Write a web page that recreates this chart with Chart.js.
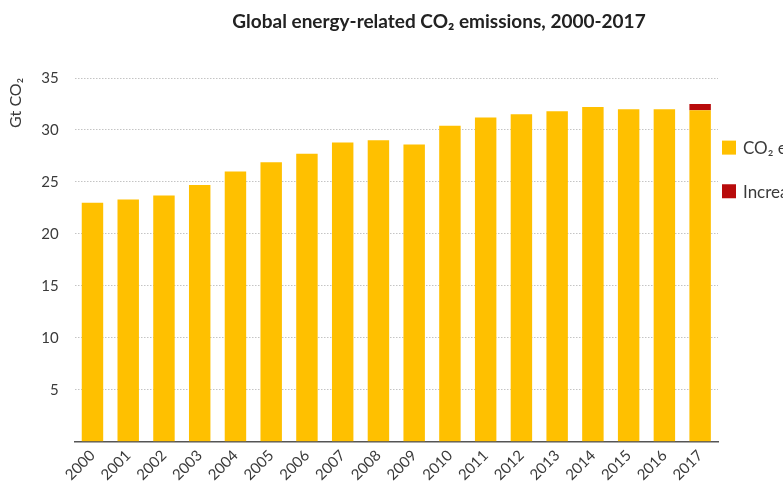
<!DOCTYPE html>
<html>
<head>
<meta charset="utf-8">
<script src="https://cdn.jsdelivr.net/npm/chart.js@4"></script>
<style>
html,body{margin:0;padding:0;background:#fff;overflow:hidden;}
#wrap{width:783px;height:489px;position:relative;}
</style>
</head>
<body>
<div id="wrap"><canvas id="c"></canvas></div>
<script>
const years = ['2000','2001','2002','2003','2004','2005','2006','2007','2008','2009','2010','2011','2012','2013','2014','2015','2016','2017'];
const emissions = [23.0,23.3,23.7,24.7,26.0,26.9,27.7,28.8,29.0,28.6,30.4,31.2,31.5,31.8,32.2,32.0,32.0,31.9];
const increase2017 = [null,null,null,null,null,null,null,null,null,null,null,null,null,null,null,null,null,0.6];
const seriesLabels = ['CO\u2082 emissions','Increase in 2017'];
const yTicks = [0,5,10,15,20,25,30,35];
const chartTitle = 'Global energy-related CO\u2082 emissions, 2000-2017';

const YELLOW = '#FFC000';
const RED = '#B80B0B';
const TEXT = '#3a3a3a';
const FONT = 'Lato, "Open Sans", sans-serif';

const decorPlugin = {
  id: 'decor',
  afterDraw(chart) {
    const ctx = chart.ctx;
    const area = chart.chartArea;
    ctx.save();
    ctx.fillStyle = '#222';
    ctx.font = 'bold 19px ' + FONT;
    ctx.textAlign = 'center';
    ctx.textBaseline = 'middle';
    ctx.fillText(chartTitle, 439, 22);
    const x0 = area.right + 4;
    const ys = [chart.scales.y.getPixelForValue(28.3), chart.scales.y.getPixelForValue(24.1)];
    chart.data.datasets.forEach((ds, i) => {
      ctx.fillStyle = ds.backgroundColor;
      ctx.fillRect(x0, ys[i] - 7, 14, 14);
      ctx.fillStyle = TEXT;
      ctx.font = '17px ' + FONT;
      ctx.textBaseline = 'middle';
      ctx.textAlign = 'left';
      ctx.fillText(ds.label, x0 + 21, ys[i] + 1);
    });
    ctx.restore();
  }
};

new Chart(document.getElementById('c'), {
  type: 'bar',
  data: {
    labels: years,
    datasets: [
      { label: seriesLabels[0], data: emissions, backgroundColor: YELLOW, barPercentage: 0.6, categoryPercentage: 1.0 },
      { label: seriesLabels[1], data: increase2017, backgroundColor: RED, barPercentage: 0.6, categoryPercentage: 1.0 }
    ]
  },
  options: {
    responsive: true,
    maintainAspectRatio: false,
    animation: false,
    layout: { padding: { left: 6, right: 65, top: 78, bottom: 0 } },
    plugins: {
      legend: { display: false },
      tooltip: { enabled: false },
      title: { display: false }
    },
    scales: {
      x: {
        stacked: true,
        grid: { display: false, drawTicks: false },
        border: { display: true, color: '#555', width: 1.5 },
        ticks: {
          color: TEXT,
          font: { family: FONT, size: 15 },
          maxRotation: 45, minRotation: 45,
          padding: 5
        }
      },
      y: {
        stacked: true,
        min: 0, max: 35,
        afterBuildTicks(scale) { scale.ticks = yTicks.map(v => ({ value: v })); },
        grid: {
          color: ctx => ctx.tick && ctx.tick.value === 0 ? 'rgba(0,0,0,0)' : '#c4c4c4',
          drawTicks: false,
          lineWidth: 1
        },
        border: { display: false, dash: [1.5, 1.5] },
        ticks: {
          color: TEXT,
          font: { family: FONT, size: 15 },
          padding: 16,
          callback: v => v === 0 ? '' : v
        },
        title: {
          display: true,
          text: 'Gt CO\u2082',
          align: 'end',
          color: TEXT,
          font: { family: FONT, size: 16 },
          padding: { top: 0, bottom: 0 }
        }
      }
    }
  },
  plugins: [decorPlugin]
});
</script>
</body>
</html>
